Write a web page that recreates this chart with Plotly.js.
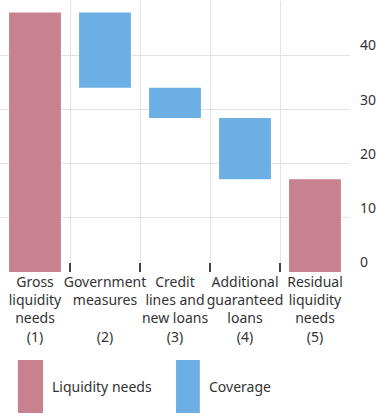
<!DOCTYPE html>
<html>
<head>
<meta charset="utf-8">
<script src="https://cdn.plot.ly/plotly-3.0.1.min.js"></script>
<style>html,body{margin:0;padding:0;background:#fff;}#chart{width:378px;height:416px;}</style>
</head>
<body>
<div id="chart"></div>
<script>
const categories = [
  "Gross<br>liquidity<br>needs<br>(1)",
  "Government<br>measures<br> <br>(2)",
  "Credit<br>lines and<br>new loans<br>(3)",
  "Additional<br>guaranteed<br>loans<br>(4)",
  "Residual<br>liquidity<br>needs<br>(5)"
];
const grossNeeds = 47.9;
const coverageValues = [13.9, 5.6, 11.3];
const seriesNames = ["Liquidity needs", "Coverage"];
const yTickVals = [0, 10, 20, 30, 40, 50];
const yTickText = ["0", "10", "20", "30", "40", ""];

const pink = "#C8818F";
const blue = "#6BAFE5";

// cumulative bases for the coverage bars
const covBases = [];
let level = grossNeeds;
coverageValues.forEach(v => { level -= v; covBases.push(level); });
const residual = level;

const traces = [
  {
    type: "bar",
    name: seriesNames[0],
    x: [categories[0], categories[4]],
    y: [grossNeeds, residual],
    marker: {color: pink},
    width: 0.74,
    hoverinfo: "y"
  },
  {
    type: "bar",
    name: seriesNames[1],
    x: categories.slice(1, 4),
    y: coverageValues,
    base: covBases,
    marker: {color: blue},
    width: 0.74,
    hoverinfo: "y"
  }
];

const layout = {
  width: 378,
  height: 416,
  margin: {l: 0, r: 28, t: 1, b: 144},
  paper_bgcolor: "#ffffff",
  plot_bgcolor: "#ffffff",
  barmode: "overlay",
  showlegend: false,
  font: {family: "Noto Sans, Open Sans, sans-serif", size: 13, color: "#333333"},
  xaxis: {
    type: "category",
    categoryorder: "array",
    categoryarray: categories,
    tickson: "boundaries",
    tickangle: 0,
    ticks: "inside",
    ticklen: 9,
    tickwidth: 1.2,
    tickcolor: "#444444",
    showgrid: true,
    gridcolor: "#e3e3e3",
    gridwidth: 1,
    showline: false,
    zeroline: false,
    tickfont: {size: 14, color: "#333333"},
    fixedrange: true
  },
  yaxis: {
    side: "right",
    range: [0, 50],
    tickvals: yTickVals,
    ticktext: yTickText,
    ticks: "",
    ticklabelposition: "outside top",
    ticklabelstandoff: 9,
    showgrid: true,
    gridcolor: "#e3e3e3",
    gridwidth: 1,
    zeroline: false,
    showline: false,
    tickfont: {size: 14, color: "#333333"},
    fixedrange: true
  },
  shapes: [
    {type: "rect", xref: "paper", yref: "paper", x0: 0.051, x1: 0.123, y0: -0.520, y1: -0.325,
     fillcolor: pink, line: {width: 0}},
    {type: "rect", xref: "paper", yref: "paper", x0: 0.503, x1: 0.571, y0: -0.520, y1: -0.325,
     fillcolor: blue, line: {width: 0}}
  ],
  annotations: [
    {xref: "paper", yref: "paper", x: 0.143, y: -0.424, xanchor: "left", yanchor: "middle",
     text: seriesNames[0], showarrow: false, font: {size: 14, color: "#333333"}},
    {xref: "paper", yref: "paper", x: 0.591, y: -0.424, xanchor: "left", yanchor: "middle",
     text: seriesNames[1], showarrow: false, font: {size: 14, color: "#333333"}}
  ]
};

Plotly.newPlot("chart", traces, layout, {displayModeBar: false, staticPlot: true});
</script>
</body>
</html>
